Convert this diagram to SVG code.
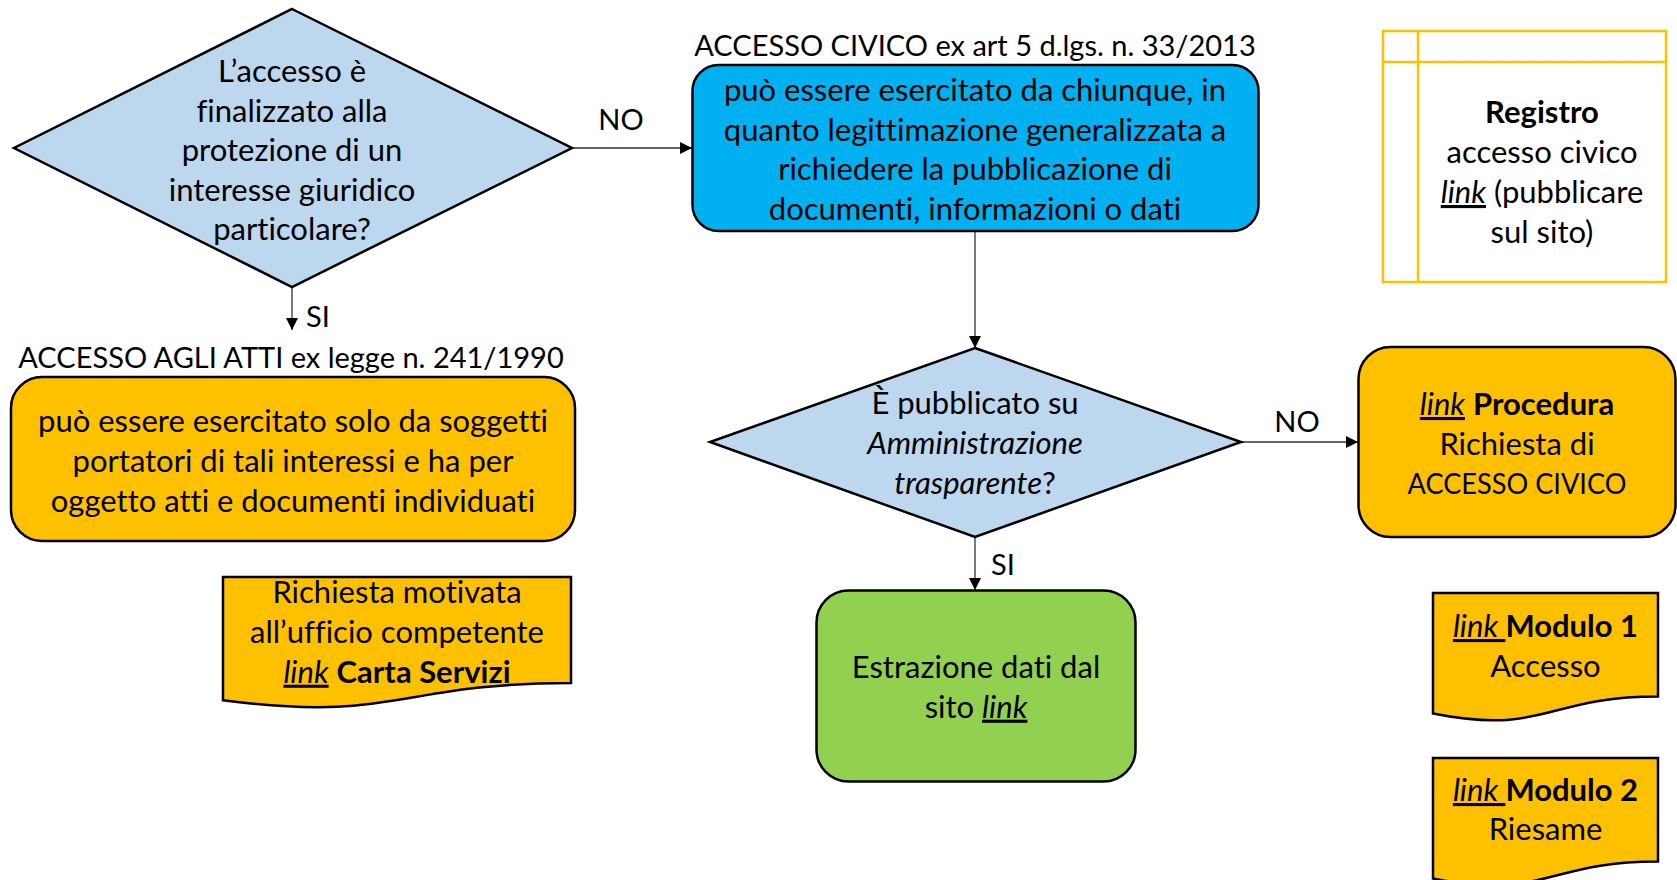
<svg xmlns="http://www.w3.org/2000/svg" width="1677" height="880" viewBox="0 0 1677 880">
<defs>
<marker id="arr" viewBox="0 0 12 12" refX="12" refY="6" markerWidth="12" markerHeight="12" markerUnits="userSpaceOnUse" orient="auto"><path d="M0,0 L12,6 L0,12 z" fill="#000"/></marker>
</defs>
<style>
text{font-family:Lato,"Liberation Sans",sans-serif;font-size:31px;fill:#000;text-anchor:middle;font-variant-ligatures:none}
.t{font-size:29px}
.b{font-weight:bold}
.i{font-style:italic}
.u{text-decoration:underline}
.sh{stroke:#000;stroke-width:2.5}
.conn{stroke:#333;stroke-width:1.3;fill:none}
.ltb{fill:#BDD7EE}
.org{fill:#FFC000}
</style>
<rect width="1677" height="880" fill="#fff"/>

<g id="connectors">
<line class="conn" x1="572" y1="148" x2="692" y2="148" marker-end="url(#arr)"/>
<line class="conn" x1="292" y1="287" x2="292" y2="330" marker-end="url(#arr)"/>
<line class="conn" x1="975" y1="231" x2="975" y2="348" marker-end="url(#arr)"/>
<line class="conn" x1="975" y1="537" x2="975" y2="590" marker-end="url(#arr)"/>
<line class="conn" x1="1241" y1="442" x2="1358" y2="442" marker-end="url(#arr)"/>
<text x="621" y="130" class="t">NO</text>
<text x="318" y="327" class="t">SI</text>
<text x="1003" y="575" class="t">SI</text>
<text x="1297" y="432" class="t">NO</text>
</g>

<g id="decision1">
<polygon class="sh ltb" points="292,9 572,148 292,287 14,148"/>
<text x="292" y="82">L’accesso è</text>
<text x="292" y="121.6">finalizzato alla</text>
<text x="292" y="161.2">protezione di un</text>
<text x="292" y="200.8">interesse giuridico</text>
<text x="292" y="240.4">particolare?</text>
</g>

<g id="civico">
<text x="975" y="56" class="t">ACCESSO CIVICO ex art 5 d.lgs. n. 33/2013</text>
<rect class="sh" x="692.5" y="65" width="566" height="166" rx="26" fill="#00B0F0"/>
<text x="975" y="101">può essere esercitato da chiunque, in</text>
<text x="975" y="140.5">quanto legittimazione generalizzata a</text>
<text x="975" y="180">richiedere la pubblicazione di</text>
<text x="975" y="219.5">documenti, informazioni o dati</text>
</g>

<g id="registro">
<rect x="1383" y="31" width="283" height="251" fill="none" stroke="#FFC000" stroke-width="2.5"/>
<line x1="1418" y1="31" x2="1418" y2="282" stroke="#FFC000" stroke-width="2.5"/>
<line x1="1383" y1="62" x2="1666" y2="62" stroke="#FFC000" stroke-width="2.5"/>
<text x="1542" y="123" class="b">Registro</text>
<text x="1542" y="163">accesso civico</text>
<text x="1542" y="203"><tspan class="i u">link</tspan> (pubblicare</text>
<text x="1542" y="243">sul sito)</text>
</g>

<g id="atti">
<text x="291" y="368" class="t">ACCESSO AGLI ATTI ex legge n. 241/1990</text>
<rect class="sh org" x="11" y="377" width="564" height="164" rx="31"/>
<text x="293" y="432">può essere esercitato solo da soggetti</text>
<text x="293" y="472">portatori di tali interessi e ha per</text>
<text x="293" y="512">oggetto atti e documenti individuati</text>
</g>

<g id="richiesta">
<path class="sh org" d="M223,577 H571 V683 C397,683 397,723 223,700.3 Z"/>
<text x="397" y="602.7">Richiesta motivata</text>
<text x="397" y="642.7">all’ufficio competente</text>
<text x="397" y="682.7"><tspan class="i u">link</tspan> <tspan class="b">Carta Servizi</tspan></text>
</g>

<g id="decision2">
<polygon class="sh ltb" points="975,348 1241,442 975,537 710,442"/>
<text x="975" y="414.3">È pubblicato su</text>
<text x="975" y="454.3" class="i">Amministrazione</text>
<text x="975" y="494.3"><tspan class="i">trasparente</tspan>?</text>
</g>

<g id="estrazione">
<rect class="sh" x="816.5" y="590.5" width="319" height="191" rx="32" fill="#92D050"/>
<text x="976" y="677.7">Estrazione dati dal</text>
<text x="976" y="717.7">sito <tspan class="i u">link</tspan></text>
</g>

<g id="procedura">
<rect class="sh org" x="1358.5" y="347" width="317" height="190" rx="32"/>
<text x="1517" y="415"><tspan class="i u">link</tspan> <tspan class="b">Procedura</tspan></text>
<text x="1517" y="454.5">Richiesta di</text>
<text x="1517" y="494" class="t" textLength="219" lengthAdjust="spacingAndGlyphs">ACCESSO CIVICO</text>
</g>

<g id="modulo1">
<path class="sh org" d="M1433,593 H1658 V696.5 C1545.5,696.5 1545.5,735.8 1433,713.5 Z"/>
<text x="1545.5" y="637"><tspan class="i u">link </tspan><tspan class="b">Modulo 1</tspan></text>
<text x="1545.5" y="676.5">Accesso</text>
</g>

<g id="modulo2">
<path class="sh org" d="M1433,758 H1658 V861.5 C1545.5,861.5 1545.5,900.8 1433,878.5 Z"/>
<text x="1545.5" y="801"><tspan class="i u">link </tspan><tspan class="b">Modulo 2</tspan></text>
<text x="1545.5" y="839.6">Riesame</text>
</g>
</svg>
